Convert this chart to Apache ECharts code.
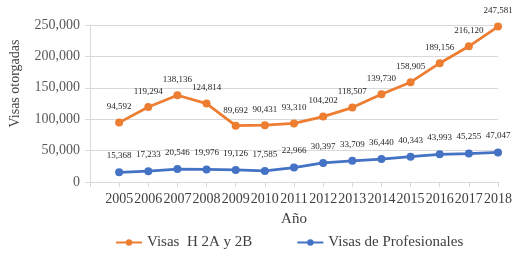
<!DOCTYPE html>
<html>
<head>
<meta charset="utf-8">
<script src="https://cdn.jsdelivr.net/npm/echarts@6/dist/echarts.min.js"></script>
<style>
  html, body { margin: 0; padding: 0; background: #fff; }
  #chart { width: 525px; height: 267px; }
</style>
</head>
<body>
<div id="chart"></div>
<script>
var years = [2005, 2006, 2007, 2008, 2009, 2010, 2011, 2012, 2013, 2014, 2015, 2016, 2017, 2018];
var visasH2 = [94592, 119294, 138136, 124814, 89692, 90431, 93310, 104202, 118507, 139730, 158905, 189156, 216120, 247581];
var visasProf = [15368, 17233, 20546, 19976, 19126, 17585, 22966, 30397, 33709, 36440, 40343, 43993, 45255, 47047];

function pairs(vals) {
  return vals.map(function (v, i) { return [years[i], v]; });
}
function fmt(n) {
  return n.toString().replace(/\B(?=(\d{3})+(?!\d))/g, ",");
}

var myChart = echarts.init(document.getElementById("chart"));
var serif = "Liberation Serif";
myChart.setOption({
  animation: false,
  textStyle: { fontFamily: serif },
  grid: { left: 90, right: 27, top: 25, bottom: 85 },
  legend: {
    bottom: 12,
    left: 110,
    itemWidth: 26,
    itemHeight: 8,
    itemGap: 44,
    textStyle: { fontFamily: serif, fontSize: 15, color: "#404040" },
    data: ["Visas  H 2A y 2B", "Visas de Profesionales"]
  },
  xAxis: {
    type: "value",
    min: 2004,
    max: 2018,
    interval: 1,
    name: "Año",
    nameLocation: "middle",
    nameGap: 30,
    nameTextStyle: { fontFamily: serif, fontSize: 15, color: "#404040" },
    splitLine: { show: false },
    axisLine: { lineStyle: { color: "#d9d9d9" } },
    axisTick: { show: true, lineStyle: { color: "#d9d9d9" } },
    axisLabel: {
      fontFamily: serif, fontSize: 14, color: "#404040", margin: 10,
      formatter: function (v) { return v === 2004 ? "" : String(v); }
    }
  },
  yAxis: {
    type: "value",
    min: 0,
    max: 250000,
    interval: 50000,
    name: "Visas otorgadas",
    nameLocation: "middle",
    nameGap: 68,
    nameTextStyle: { fontFamily: serif, fontSize: 14, color: "#404040", padding: [0, 0, 0, 40] },
    axisLine: { show: true, lineStyle: { color: "#d9d9d9" } },
    axisTick: { show: true, length: 5, lineStyle: { color: "#d9d9d9" } },
    splitLine: { lineStyle: { color: "#d9d9d9" } },
    axisLabel: {
      fontFamily: serif, fontSize: 14, color: "#595959", margin: 10,
      formatter: function (v) { return fmt(v); }
    }
  },
  series: [
    {
      name: "Visas  H 2A y 2B",
      type: "line",
      data: pairs(visasH2),
      symbol: "circle",
      symbolSize: 8,
      itemStyle: { color: "#ED7D31" },
      lineStyle: { color: "#ED7D31", width: 2.75 },
      label: {
        show: true, position: "top", distance: 7,
        fontFamily: serif, fontSize: 9, color: "#262626",
        formatter: function (p) { return fmt(p.value[1]); }
      }
    },
    {
      name: "Visas de Profesionales",
      type: "line",
      data: pairs(visasProf),
      symbol: "circle",
      symbolSize: 8,
      itemStyle: { color: "#4472C4" },
      lineStyle: { color: "#4472C4", width: 2.75 },
      label: {
        show: true, position: "top", distance: 8,
        fontFamily: serif, fontSize: 9, color: "#262626",
        formatter: function (p) { return fmt(p.value[1]); }
      }
    }
  ]
});
</script>
</body>
</html>
